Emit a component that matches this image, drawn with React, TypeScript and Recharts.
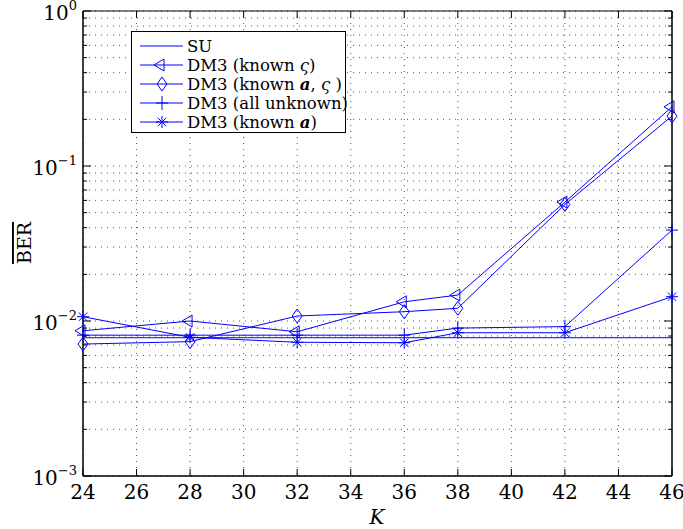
import { CartesianGrid, Legend, Line, LineChart, XAxis, YAxis } from 'recharts';

const K = [24, 28, 32, 36, 38, 42, 46];
const SU = [0.0078, 0.0078, 0.0078, 0.0078, 0.0078, 0.0078, 0.0078];
const KNOWN_SIGMA = [0.00865, 0.01, 0.00852, 0.0133, 0.0147, 0.0585, 0.241];
const KNOWN_A_SIGMA = [0.0071, 0.00736, 0.01077, 0.01148, 0.01208, 0.0565, 0.21];
const ALL_UNKNOWN = [0.0081, 0.0081, 0.0081, 0.0081, 0.009, 0.0092, 0.0386];
const KNOWN_A = [0.01066, 0.00785, 0.00729, 0.00724, 0.0084, 0.0084, 0.01435];

const X_TICKS = [24, 26, 28, 30, 32, 34, 36, 38, 40, 42, 44, 46];
const Y_MAJOR = [0.001, 0.01, 0.1, 1];
const Y_MINOR = [
  0.002, 0.003, 0.004, 0.005, 0.006, 0.007, 0.008, 0.009,
  0.02, 0.03, 0.04, 0.05, 0.06, 0.07, 0.08, 0.09,
  0.2, 0.3, 0.4, 0.5, 0.6, 0.7, 0.8, 0.9,
];
const Y_ALL = [...Y_MAJOR, ...Y_MINOR].sort((a, b) => a - b);

// frame of the plot area (MATLAB-style box)
const W = 683;
const H = 529;
const LEFT = 83;
const RIGHT = 672;
const TOP = 11;
const BOTTOM = 476;

const BLUE = '#0000ff';
const FONT = '"DejaVu Serif", serif';

type MarkerType = 'none' | 'triangle' | 'diamond' | 'plus' | 'star';

const SERIES: Array<{ key: string; values: number[]; marker: MarkerType }> = [
  { key: 'su', values: SU, marker: 'none' },
  { key: 'knownSigma', values: KNOWN_SIGMA, marker: 'triangle' },
  { key: 'knownASigma', values: KNOWN_A_SIGMA, marker: 'diamond' },
  { key: 'allUnknown', values: ALL_UNKNOWN, marker: 'plus' },
  { key: 'knownA', values: KNOWN_A, marker: 'star' },
];

const data = K.map((k, i) => {
  const row: Record<string, number> = { k };
  SERIES.forEach((s) => {
    row[s.key] = s.values[i];
  });
  return row;
});

function Marker({ type, cx, cy }: { type: MarkerType; cx: number; cy: number }) {
  const common = { stroke: BLUE, strokeWidth: 1, fill: 'none' };
  if (type === 'triangle') {
    return <polygon points={`${cx - 8},${cy} ${cx + 2},${cy - 6} ${cx + 2},${cy + 6}`} {...common} />;
  }
  if (type === 'diamond') {
    return <polygon points={`${cx},${cy - 7} ${cx + 5},${cy} ${cx},${cy + 7} ${cx - 5},${cy}`} {...common} />;
  }
  if (type === 'plus') {
    return (
      <g {...common}>
        <line x1={cx - 6} x2={cx + 6} y1={cy} y2={cy} />
        <line x1={cx} x2={cx} y1={cy - 7} y2={cy + 7} />
      </g>
    );
  }
  if (type === 'star') {
    const d = 4.2;
    return (
      <g {...common}>
        <line x1={cx - 6} x2={cx + 6} y1={cy} y2={cy} />
        <line x1={cx} x2={cx} y1={cy - 6} y2={cy + 6} />
        <line x1={cx - d} x2={cx + d} y1={cy - d} y2={cy + d} />
        <line x1={cx - d} x2={cx + d} y1={cy + d} y2={cy - d} />
      </g>
    );
  }
  return null;
}

const isMajor = (v: number) => Math.abs(Math.log10(v) - Math.round(Math.log10(v))) < 1e-9;

function LeftTick(props: any) {
  const { y, payload } = props;
  const v = payload.value as number;
  const major = isMajor(v);
  const exp = Math.round(Math.log10(v));
  return (
    <g>
      <line x1={LEFT} x2={LEFT + (major ? 8 : 4)} y1={y} y2={y} stroke="#000" />
      {major && (
        <text x={LEFT - 6} y={y + 9} textAnchor="end" fontSize={20} fontFamily={FONT} fill="#000">
          10
          <tspan dy={-10} fontSize={13}>
            {exp < 0 ? `\u2212${-exp}` : `${exp}`}
          </tspan>
        </text>
      )}
    </g>
  );
}

function RightTick(props: any) {
  const { y, payload } = props;
  const major = isMajor(payload.value);
  return <line x1={RIGHT} x2={RIGHT - (major ? 8 : 4)} y1={y} y2={y} stroke="#000" />;
}

function BottomTick(props: any) {
  const { x, payload } = props;
  return (
    <g>
      <line x1={x} x2={x} y1={BOTTOM} y2={BOTTOM - 7} stroke="#000" />
      <text x={x} y={BOTTOM + 23} textAnchor="middle" fontSize={20} fontFamily={FONT} fill="#000">
        {payload.value}
      </text>
    </g>
  );
}

function TopTick(props: any) {
  const { x } = props;
  return <line x1={x} x2={x} y1={TOP} y2={TOP + 7} stroke="#000" />;
}

function LegendLabel({ idx }: { idx: number }) {
  const it = { fontStyle: 'italic' as const };
  const bi = { fontStyle: 'italic' as const, fontWeight: 'bold' as const };
  switch (idx) {
    case 0:
      return <>SU</>;
    case 1:
      return (
        <>
          DM3 (known <tspan {...it}>ς</tspan>)
        </>
      );
    case 2:
      return (
        <>
          DM3 (known <tspan {...bi}>a</tspan>, <tspan {...it}>ς</tspan> )
        </>
      );
    case 3:
      return <>DM3 (all unknown)</>;
    default:
      return (
        <>
          DM3 (known <tspan {...bi}>a</tspan>)
        </>
      );
  }
}

function LegendBox() {
  return (
    <svg width={216} height={103} style={{ display: 'block' }}>
      <rect x={0.5} y={0.5} width={214} height={101} fill="#fff" stroke="#000" />
      {SERIES.map((s, i) => {
        const cy = 15 + i * 19;
        return (
          <g key={s.key}>
            <line x1={9} x2={52} y1={cy} y2={cy} stroke={BLUE} />
            <Marker type={s.marker} cx={31} cy={cy} />
            <text x={56} y={cy + 6} fontSize={16.5} fontFamily={FONT} fill="#000">
              <LegendLabel idx={i} />
            </text>
          </g>
        );
      })}
    </svg>
  );
}

export default function App() {
  return (
    <div style={{ position: 'absolute', left: 0, top: 0, width: W, height: H, background: '#fff' }}>
      <LineChart
        width={W}
        height={H}
        data={data}
        margin={{ left: LEFT - 1, right: W - RIGHT - 1, top: TOP - 1, bottom: H - BOTTOM - 1 }}
      >
        <CartesianGrid
          verticalValues={X_TICKS}
          horizontalValues={Y_ALL}
          stroke="#555"
          strokeDasharray="1 5"
        />
        <XAxis
          dataKey="k"
          type="number"
          domain={[24, 46]}
          ticks={X_TICKS}
          height={1}
          tickSize={0}
          tickMargin={0}
          tickLine={false}
          interval={0}
          axisLine={{ stroke: '#000', strokeWidth: 1.5 }}
          tick={<BottomTick />}
          label={{
            content: () => (
              <text x={377} y={524} textAnchor="middle" fontSize={20} fontStyle="italic" fontFamily={FONT}>
                K
              </text>
            ),
          }}
        />
        <XAxis
          xAxisId="top"
          orientation="top"
          dataKey="k"
          type="number"
          domain={[24, 46]}
          ticks={X_TICKS}
          height={1}
          tickSize={0}
          tickMargin={0}
          tickLine={false}
          interval={0}
          axisLine={{ stroke: '#000', strokeWidth: 1 }}
          tick={<TopTick />}
        />
        <YAxis
          type="number"
          scale="log"
          domain={[0.001, 1]}
          allowDataOverflow
          ticks={Y_ALL}
          width={1}
          tickSize={0}
          tickMargin={0}
          tickLine={false}
          interval={0}
          axisLine={{ stroke: '#000', strokeWidth: 1.5 }}
          tick={<LeftTick />}
          label={{
            content: () => (
              <text
                x={31}
                y={243}
                transform="rotate(-90 31 243)"
                textAnchor="middle"
                fontSize={19}
                fontFamily={FONT}
                style={{ textDecoration: 'overline' }}
              >
                BER
              </text>
            ),
          }}
        />
        <YAxis
          yAxisId="right"
          orientation="right"
          type="number"
          scale="log"
          domain={[0.001, 1]}
          allowDataOverflow
          ticks={Y_ALL}
          width={1}
          tickSize={0}
          tickMargin={0}
          tickLine={false}
          interval={0}
          axisLine={{ stroke: '#000', strokeWidth: 1.5 }}
          tick={<RightTick />}
        />
        {SERIES.map((s) => (
          <Line
            key={s.key}
            dataKey={s.key}
            stroke={BLUE}
            strokeWidth={1}
            isAnimationActive={false}
            dot={(p: any) => <Marker key={`${s.key}-${p.index}`} type={s.marker} cx={p.cx} cy={p.cy} />}
            activeDot={false}
          />
        ))}
        <Legend
          layout="vertical"
          align="center"
          verticalAlign="middle"
          wrapperStyle={{ position: 'absolute', left: 131, top: 31, width: 216, height: 103 }}
          content={() => <LegendBox />}
        />
      </LineChart>
    </div>
  );
}
